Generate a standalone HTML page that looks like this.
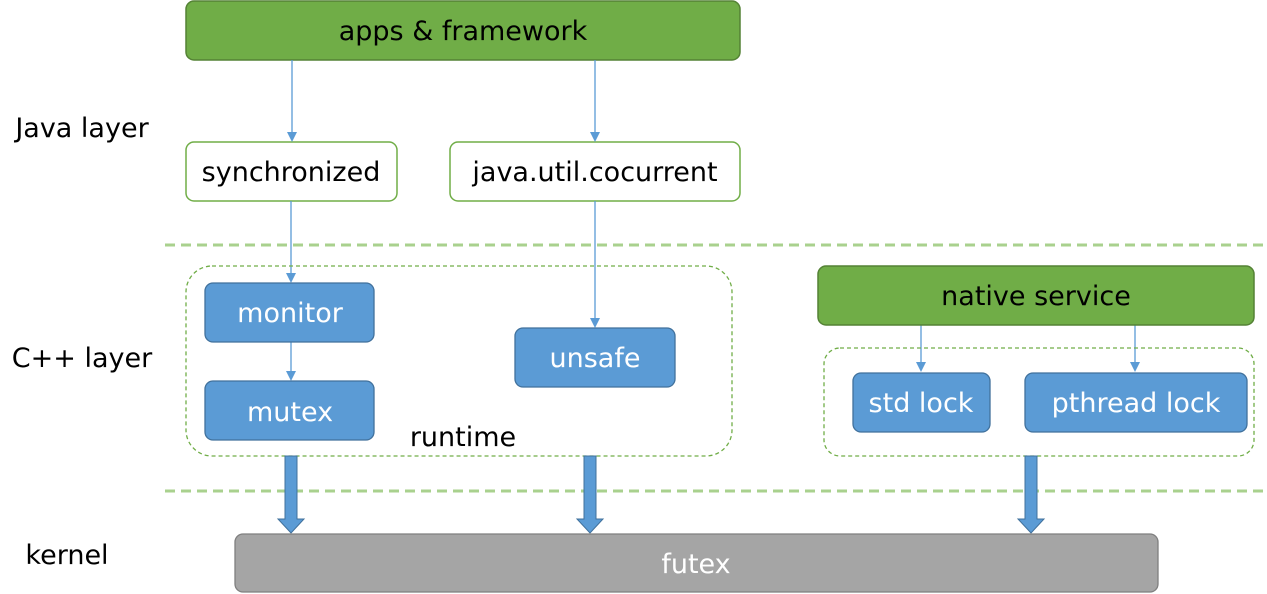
<!DOCTYPE html>
<html><head><meta charset="utf-8"><style>
html,body{margin:0;padding:0;background:#fff;}
svg{display:block;}
text{font-family:"DejaVu Sans","Liberation Sans",sans-serif;font-size:27px;}
</style></head><body>
<svg width="1267" height="594" viewBox="0 0 1267 594" xmlns="http://www.w3.org/2000/svg">
<line x1="165" y1="245" x2="1267" y2="245" stroke="#a9d18e" stroke-width="3" stroke-dasharray="10 6"/>
<line x1="165" y1="491" x2="1267" y2="491" stroke="#a9d18e" stroke-width="3" stroke-dasharray="10 6"/>

<text x="82" y="137" text-anchor="middle">Java layer</text>
<text x="82" y="367" text-anchor="middle">C++ layer</text>
<text x="67" y="564" text-anchor="middle">kernel</text>

<rect x="186" y="1" width="554" height="59" rx="8" fill="#70ad47" stroke="#548235" stroke-width="1.5"/>
<text x="463" y="40" text-anchor="middle" fill="#000">apps &amp; framework</text>

<rect x="186" y="142" width="211" height="59" rx="8" fill="#fff" stroke="#70ad47" stroke-width="1.5"/>
<text x="291" y="181" text-anchor="middle">synchronized</text>
<rect x="450" y="142" width="290" height="59" rx="8" fill="#fff" stroke="#70ad47" stroke-width="1.5"/>
<text x="595" y="181" text-anchor="middle">java.util.cocurrent</text>

<g stroke="#5b9bd5" stroke-width="1.3" fill="none">
<line x1="292" y1="60" x2="292" y2="133"/>
<line x1="595" y1="60" x2="595" y2="133"/>
<line x1="291" y1="201" x2="291" y2="274"/>
<line x1="595" y1="201" x2="595" y2="319"/>
<line x1="291" y1="342" x2="291" y2="372"/>
<line x1="921" y1="325" x2="921" y2="363"/>
<line x1="1135" y1="325" x2="1135" y2="363"/>
</g>
<g fill="#5b9bd5">
<path d="M287,132 L297,132 L292,142 Z"/>
<path d="M590,132 L600,132 L595,142 Z"/>
<path d="M286,273 L296,273 L291,283 Z"/>
<path d="M590,318 L600,318 L595,328 Z"/>
<path d="M286,371 L296,371 L291,381 Z"/>
<path d="M916,362 L926,362 L921,372 Z"/>
<path d="M1130,362 L1140,362 L1135,372 Z"/>
</g>

<rect x="186" y="266" width="546" height="190" rx="26" fill="none" stroke="#70ad47" stroke-width="1.3" stroke-dasharray="4 3"/>
<rect x="205" y="283" width="169" height="59" rx="8" fill="#5b9bd5" stroke="#41719c" stroke-width="1.3"/>
<text x="290" y="322" text-anchor="middle" fill="#fff">monitor</text>
<rect x="205" y="381" width="169" height="59" rx="8" fill="#5b9bd5" stroke="#41719c" stroke-width="1.3"/>
<text x="290" y="421" text-anchor="middle" fill="#fff">mutex</text>
<rect x="515" y="328" width="160" height="59" rx="8" fill="#5b9bd5" stroke="#41719c" stroke-width="1.3"/>
<text x="595" y="367" text-anchor="middle" fill="#fff">unsafe</text>
<text x="463" y="446" text-anchor="middle">runtime</text>

<rect x="818" y="266" width="436" height="59" rx="8" fill="#70ad47" stroke="#548235" stroke-width="1.5"/>
<text x="1036" y="305" text-anchor="middle" fill="#000">native service</text>
<rect x="824" y="348" width="430" height="108" rx="16" fill="none" stroke="#70ad47" stroke-width="1.3" stroke-dasharray="4 3"/>
<rect x="853" y="373" width="137" height="59" rx="8" fill="#5b9bd5" stroke="#41719c" stroke-width="1.3"/>
<text x="921" y="412" text-anchor="middle" fill="#fff">std lock</text>
<rect x="1025" y="373" width="222" height="59" rx="8" fill="#5b9bd5" stroke="#41719c" stroke-width="1.3"/>
<text x="1136" y="412" text-anchor="middle" fill="#fff">pthread lock</text>

<g fill="#5b9bd5" stroke="#41719c" stroke-width="1">
<path d="M285,456 H297 V519 H304 L291,533 L278,519 H285 Z"/>
<path d="M584,456 H596 V519 H603 L590,533 L577,519 H584 Z"/>
<path d="M1025,456 H1037 V519 H1044 L1031,533 L1018,519 H1025 Z"/>
</g>

<rect x="235" y="534" width="923" height="58" rx="8" fill="#a5a5a5" stroke="#7f7f7f" stroke-width="1.3"/>
<text x="696" y="573" text-anchor="middle" fill="#fff">futex</text>
</svg>
</body></html>
